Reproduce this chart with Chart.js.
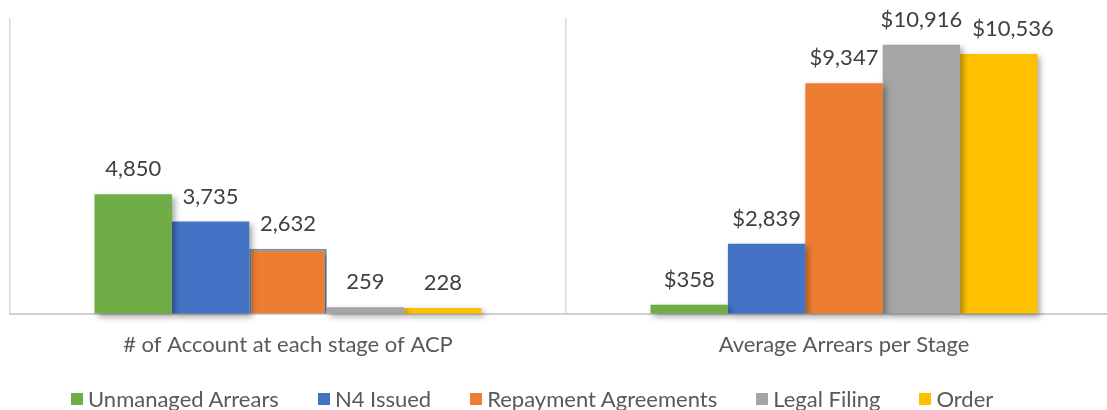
<!DOCTYPE html>
<html>
<head>
<meta charset="utf-8">
<title>ACP stages</title>
<script src="https://cdn.jsdelivr.net/npm/chart.js@4.4.1/dist/chart.umd.min.js"></script>
<style>
  html, body { margin: 0; padding: 0; background: #fff; overflow: hidden; }
  #wrap { position: relative; width: 1107px; height: 410px; overflow: hidden; }
  #c { position: absolute; left: 0; top: 0; }
  #legend { position: absolute; left: 71px; top: 387px; display: flex; font: 22px Lato, sans-serif; line-height: 24px; color: #595959; white-space: nowrap; }
  #legend .item { display: flex; align-items: center; margin-right: 39px; }
  #legend .box { width: 12px; height: 12px; margin-right: 5px; }
</style>
</head>
<body>
<div id="wrap">
  <canvas id="c" width="1140" height="410"></canvas>
  <div id="legend"></div>
</div>
<script>
// data
const categories = ['# of Account at each stage of ACP', 'Average Arrears per Stage'];
const seriesNames = ['Unmanaged Arrears', 'N4 Issued', 'Repayment Agreements', 'Legal Filing', 'Order'];
const unmanagedArrears = [4850, 358];
const n4Issued = [3735, 2839];
const repaymentAgreements = [2632, 9347];
const legalFiling = [259, 10916];
const orderValues = [228, 10536];
const valuePrefixes = ['', '$'];
const yMax = 12000;

const seriesColors = ['#70AD47', '#4472C4', '#ED7D31', '#A5A5A5', '#FFC000'];
const seriesValues = [unmanagedArrears, n4Issued, repaymentAgreements, legalFiling, orderValues];

// shadow under the bars, like the office chart
const barShadow = {
    id: 'barShadow',
    beforeDatasetsDraw(chart) {
        const ctx = chart.ctx;
        ctx.save();
        ctx.shadowColor = 'rgba(0, 0, 0, 0.35)';
        ctx.shadowBlur = 6;
        ctx.shadowOffsetX = 3;
        ctx.shadowOffsetY = 3;
    },
    afterDatasetsDraw(chart) {
        chart.ctx.restore();
    }
};

// value labels above every bar, nudged right when two would collide
const valueLabels = {
    id: 'valueLabels',
    afterDatasetsDraw(chart) {
        const ctx = chart.ctx;
        ctx.save();
        ctx.font = '22px Lato, sans-serif';
        ctx.fillStyle = '#404040';
        ctx.textAlign = 'center';
        ctx.textBaseline = 'alphabetic';
        chart.data.labels.forEach(function(lab, i) {
            let prev = null;
            chart.data.datasets.forEach(function(ds, di) {
                const bar = chart.getDatasetMeta(di).data[i];
                const txt = valuePrefixes[i] + ds.data[i].toLocaleString('en-US');
                const w = ctx.measureText(txt).width;
                let x = bar.x;
                const y = bar.y - 18;
                if (prev && Math.abs(prev.y - y) < 18 && x - w / 2 < prev.right + 10) {
                    x = prev.right + 10 + w / 2;
                }
                ctx.fillText(txt, x, y);
                prev = { right: x + w / 2, y: y };
            });
        });
        ctx.restore();
    }
};

function draw() {
    const datasets = seriesNames.map(function(name, i) {
        return {
            label: name,
            data: seriesValues[i],
            backgroundColor: seriesColors[i],
            // the left orange bar has a light blue outline in the reference
            borderColor: i === 2 ? function(c) { return c.dataIndex === 0 ? '#5B9BD5' : seriesColors[i]; } : seriesColors[i],
            borderWidth: i === 2 ? function(c) { return c.dataIndex === 0 ? 2 : 0; } : 0,
            borderSkipped: 'bottom',
            categoryPercentage: 0.696,
            barPercentage: 1,
            clip: false
        };
    });

    const chart = new Chart(document.getElementById('c'), {
        type: 'bar',
        data: { labels: categories, datasets: datasets },
        options: {
            responsive: false,
            animation: false,
            layout: { padding: { left: 10, right: 18, top: 18, bottom: 34 } },
            plugins: {
                legend: { display: false },
                tooltip: { enabled: false }
            },
            scales: {
                x: {
                    offset: true,
                    grid: { color: '#D9D9D9', lineWidth: 1.5, drawTicks: false },
                    border: { color: '#D0D0D0', width: 2 },
                    ticks: { color: '#595959', font: { family: 'Lato', size: 22 }, padding: 18 }
                },
                y: {
                    display: false,
                    min: 0,
                    max: yMax
                }
            }
        },
        plugins: [barShadow, valueLabels]
    });

    // legend built from the chart's own datasets
    const legend = document.getElementById('legend');
    chart.data.datasets.forEach(function(ds) {
        const item = document.createElement('div');
        item.className = 'item';
        const box = document.createElement('span');
        box.className = 'box';
        box.style.background = ds.backgroundColor;
        const text = document.createElement('span');
        text.textContent = ds.label;
        item.appendChild(box);
        item.appendChild(text);
        legend.appendChild(item);
    });
}

if (document.fonts && document.fonts.load) {
    document.fonts.load('22px Lato').then(draw, draw);
} else {
    draw();
}
</script>
</body>
</html>
